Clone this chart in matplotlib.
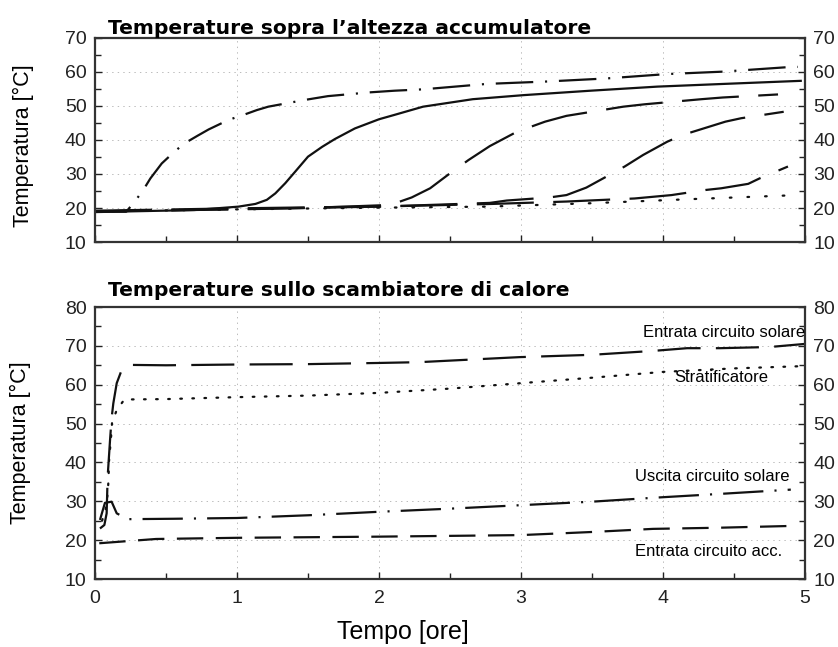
import matplotlib
matplotlib.use("Agg")
import matplotlib.pyplot as plt
from matplotlib.ticker import MultipleLocator

plt.rcParams["font.family"] = ["Liberation Sans", "DejaVu Sans"]
plt.rcParams["lines.scale_dashes"] = False

# --- top chart: temperatures at different tank heights ---
t_top_dashdot = [0.0, 0.22, 0.28, 0.34, 0.39, 0.47, 0.56, 0.63, 0.72, 0.8, 0.94, 1.06, 1.14, 1.22, 1.48, 1.64,
                 1.93, 2.11, 2.31, 2.76, 3.18, 3.6, 4.03, 4.42, 4.87, 4.95]
T_top_dashdot = [19.0, 18.9, 21.9, 25.3, 28.7, 33.1, 36.6, 39.0, 41.2, 43.1, 45.9, 47.6, 48.8, 49.8, 51.8, 52.9,
                 54.0, 54.5, 54.9, 56.5, 57.2, 58.1, 59.4, 60.1, 61.4, 61.5]

t_top_solid = [0.0, 0.7, 1.01, 1.13, 1.21, 1.27, 1.34, 1.41, 1.5, 1.6, 1.69, 1.83, 2.0, 2.11, 2.31, 2.66, 3.02,
               3.49, 3.96, 4.43, 4.97]
T_top_solid = [18.8, 19.4, 20.4, 21.2, 22.4, 24.3, 27.3, 30.7, 35.1, 38.0, 40.3, 43.4, 46.1, 47.4, 49.8, 52.0, 53.2,
               54.5, 55.7, 56.5, 57.4]

t_top_dash1 = [0.0, 1.0, 1.5, 2.08, 2.23, 2.36, 2.5, 2.63, 2.78, 2.97, 3.17, 3.32, 3.72, 3.87, 4.27, 4.42, 4.81]
T_top_dash1 = [19.0, 19.6, 20.0, 20.9, 23.1, 25.8, 30.2, 34.1, 38.2, 42.4, 45.4, 47.1, 49.8, 50.5, 52.0, 52.5, 53.4]

t_top_dash2 = [0.0, 1.0, 2.0, 2.5, 2.78, 2.9, 3.2, 3.32, 3.46, 3.6, 3.73, 3.86, 4.03, 4.14, 4.44, 4.55, 4.85]
T_top_dash2 = [19.0, 19.7, 20.4, 21.1, 21.5, 22.2, 23.1, 23.8, 26.0, 29.2, 32.2, 35.6, 39.5, 41.5, 45.4, 46.4, 48.3]

t_top_dash3 = [0.0, 1.0, 2.08, 2.8, 3.32, 3.8, 4.06, 4.3, 4.41, 4.6, 4.68, 4.88]
T_top_dash3 = [19.2, 19.9, 20.5, 21.2, 21.9, 22.8, 23.8, 25.3, 25.8, 27.1, 28.7, 32.2]

t_top_dot = [0.0, 1.0, 2.0, 2.76, 3.49, 4.19, 4.95]
T_top_dot = [19.0, 19.6, 20.1, 20.4, 21.4, 22.6, 23.8]

# --- bottom chart: temperatures at the heat exchanger ---
t_sol_in = [0.035, 0.066, 0.082, 0.089, 0.106, 0.117, 0.129, 0.153, 0.188, 0.246, 0.5, 1.0, 1.5, 2.0, 2.28,
            2.99, 3.5, 3.93, 4.17, 4.4, 4.75, 5.0]
T_sol_in = [23.0, 23.9, 26.9, 36.3, 45.8, 51.4, 55.2, 60.4, 63.8, 65.1, 65.0, 65.2, 65.3, 65.6, 65.8,
            67.1, 67.7, 68.7, 69.4, 69.4, 69.7, 70.5]

t_strat = [0.05, 0.075, 0.09, 0.095, 0.1, 0.11, 0.12, 0.153, 0.207, 0.5, 1.0, 1.5, 2.0, 2.5, 3.0, 3.5, 4.0, 4.5, 5.0]
T_strat = [25.0, 28.0, 32.2, 35.5, 41.5, 44.9, 50.2, 53.5, 56.2, 56.3, 56.8, 57.2, 57.9, 59.0, 60.4, 61.8, 63.3,
           64.2, 64.8]

t_sol_out = [0.035, 0.07, 0.117, 0.153, 0.23, 0.55, 1.0, 1.5, 2.0, 2.5, 3.0, 3.5, 3.93, 4.4, 4.9]
T_sol_out = [25.2, 29.6, 29.9, 26.9, 25.4, 25.5, 25.7, 26.4, 27.3, 28.1, 29.0, 29.9, 30.9, 31.9, 33.0]

t_acc_in = [0.03, 0.43, 1.0, 2.0, 2.5, 3.0, 3.5, 3.93, 4.4, 4.95]
T_acc_in = [19.2, 20.3, 20.6, 20.9, 21.1, 21.3, 22.1, 22.9, 23.2, 23.7]

labels_bottom = ["Entrata circuito solare", "Stratificatore", "Uscita circuito solare", "Entrata circuito acc."]

fig = plt.figure(figsize=(8.38, 6.47), dpi=100)
ax1 = fig.add_axes([95 / 838, 1 - 242 / 647, 710 / 838, 204 / 647])
ax2 = fig.add_axes([95 / 838, 1 - 579 / 647, 710 / 838, 272 / 647])

col = "#111111"
lw = 1.6
long_dash = (0, (41, 14))
dash_dot = (0, (27, 8.5, 1.5, 8.5))
dots = (0, (1.2, 11.5))

ax1.plot(t_top_dashdot, T_top_dashdot, color=col, lw=lw, ls=dash_dot)
ax1.plot(t_top_solid, T_top_solid, color=col, lw=lw, ls="-")
ax1.plot(t_top_dash1, T_top_dash1, color=col, lw=lw, ls=long_dash)
ax1.plot(t_top_dash2, T_top_dash2, color=col, lw=lw, ls=long_dash)
ax1.plot(t_top_dash3, T_top_dash3, color=col, lw=lw, ls=long_dash)
ax1.plot(t_top_dot, T_top_dot, color=col, lw=lw, ls=dots, dash_capstyle="round")

ax2.plot(t_sol_in, T_sol_in, color=col, lw=lw, ls=(0, (31, 11)))
ax2.plot(t_strat, T_strat, color=col, lw=lw, ls=(0, (1.2, 7.5)), dash_capstyle="round")
ax2.plot(t_sol_out, T_sol_out, color=col, lw=lw, ls=(0, (29, 8, 1.5, 8)))
ax2.plot(t_acc_in, T_acc_in, color=col, lw=lw, ls=(0, (19, 9)))

ax2.text(5.0, 71.6, labels_bottom[0], ha="right", va="bottom", fontsize=12)
ax2.text(4.74, 61.8, labels_bottom[1], ha="right", va="center", fontsize=12)
ax2.text(4.89, 36.3, labels_bottom[2], ha="right", va="center", fontsize=12)
ax2.text(4.84, 17.0, labels_bottom[3], ha="right", va="center", fontsize=12)

for ax, ymin, ymax in [(ax1, 10, 70), (ax2, 10, 80)]:
    ax.set_xlim(0, 5)
    ax.set_ylim(ymin, ymax)
    ax.xaxis.set_major_locator(MultipleLocator(1))
    ax.xaxis.set_minor_locator(MultipleLocator(0.5))
    ax.yaxis.set_major_locator(MultipleLocator(10))
    ax.yaxis.set_minor_locator(MultipleLocator(5))
    ax.tick_params(which="both", direction="in", top=False, right=True, labelright=True,
                   labelsize=14, colors="#222222", width=1, pad=6)
    ax.tick_params(axis="x", pad=8)
    ax.tick_params(which="major", length=5)
    ax.tick_params(which="minor", length=4)
    ax.grid(True, which="major", color="#bbbbbb", ls=(0, (1, 3)), lw=0.7)
    for s in ax.spines.values():
        s.set_linewidth(1.6)
        s.set_color("#333333")
    ax.set_ylabel("Temperatura [°C]", fontsize=15.5)

ax1.yaxis.set_label_coords(-0.086, 0.47)
ax2.yaxis.set_label_coords(-0.09, 0.5)
ax1.tick_params(axis="x", labelbottom=False)
ax2.set_xlabel("Tempo [ore]", fontsize=18)
ax2.xaxis.set_label_coords(0.434, -0.152)

ax1.set_title("Temperature sopra l\u2019altezza accumulatore", loc="left", fontsize=14.6,
              fontweight="bold", family="DejaVu Sans", x=0.018, pad=1.5)
ax2.set_title("Temperature sullo scambiatore di calore", loc="left", fontsize=14.6,
              fontweight="bold", family="DejaVu Sans", x=0.018, pad=8)

fig.savefig("out.png", dpi=100)
